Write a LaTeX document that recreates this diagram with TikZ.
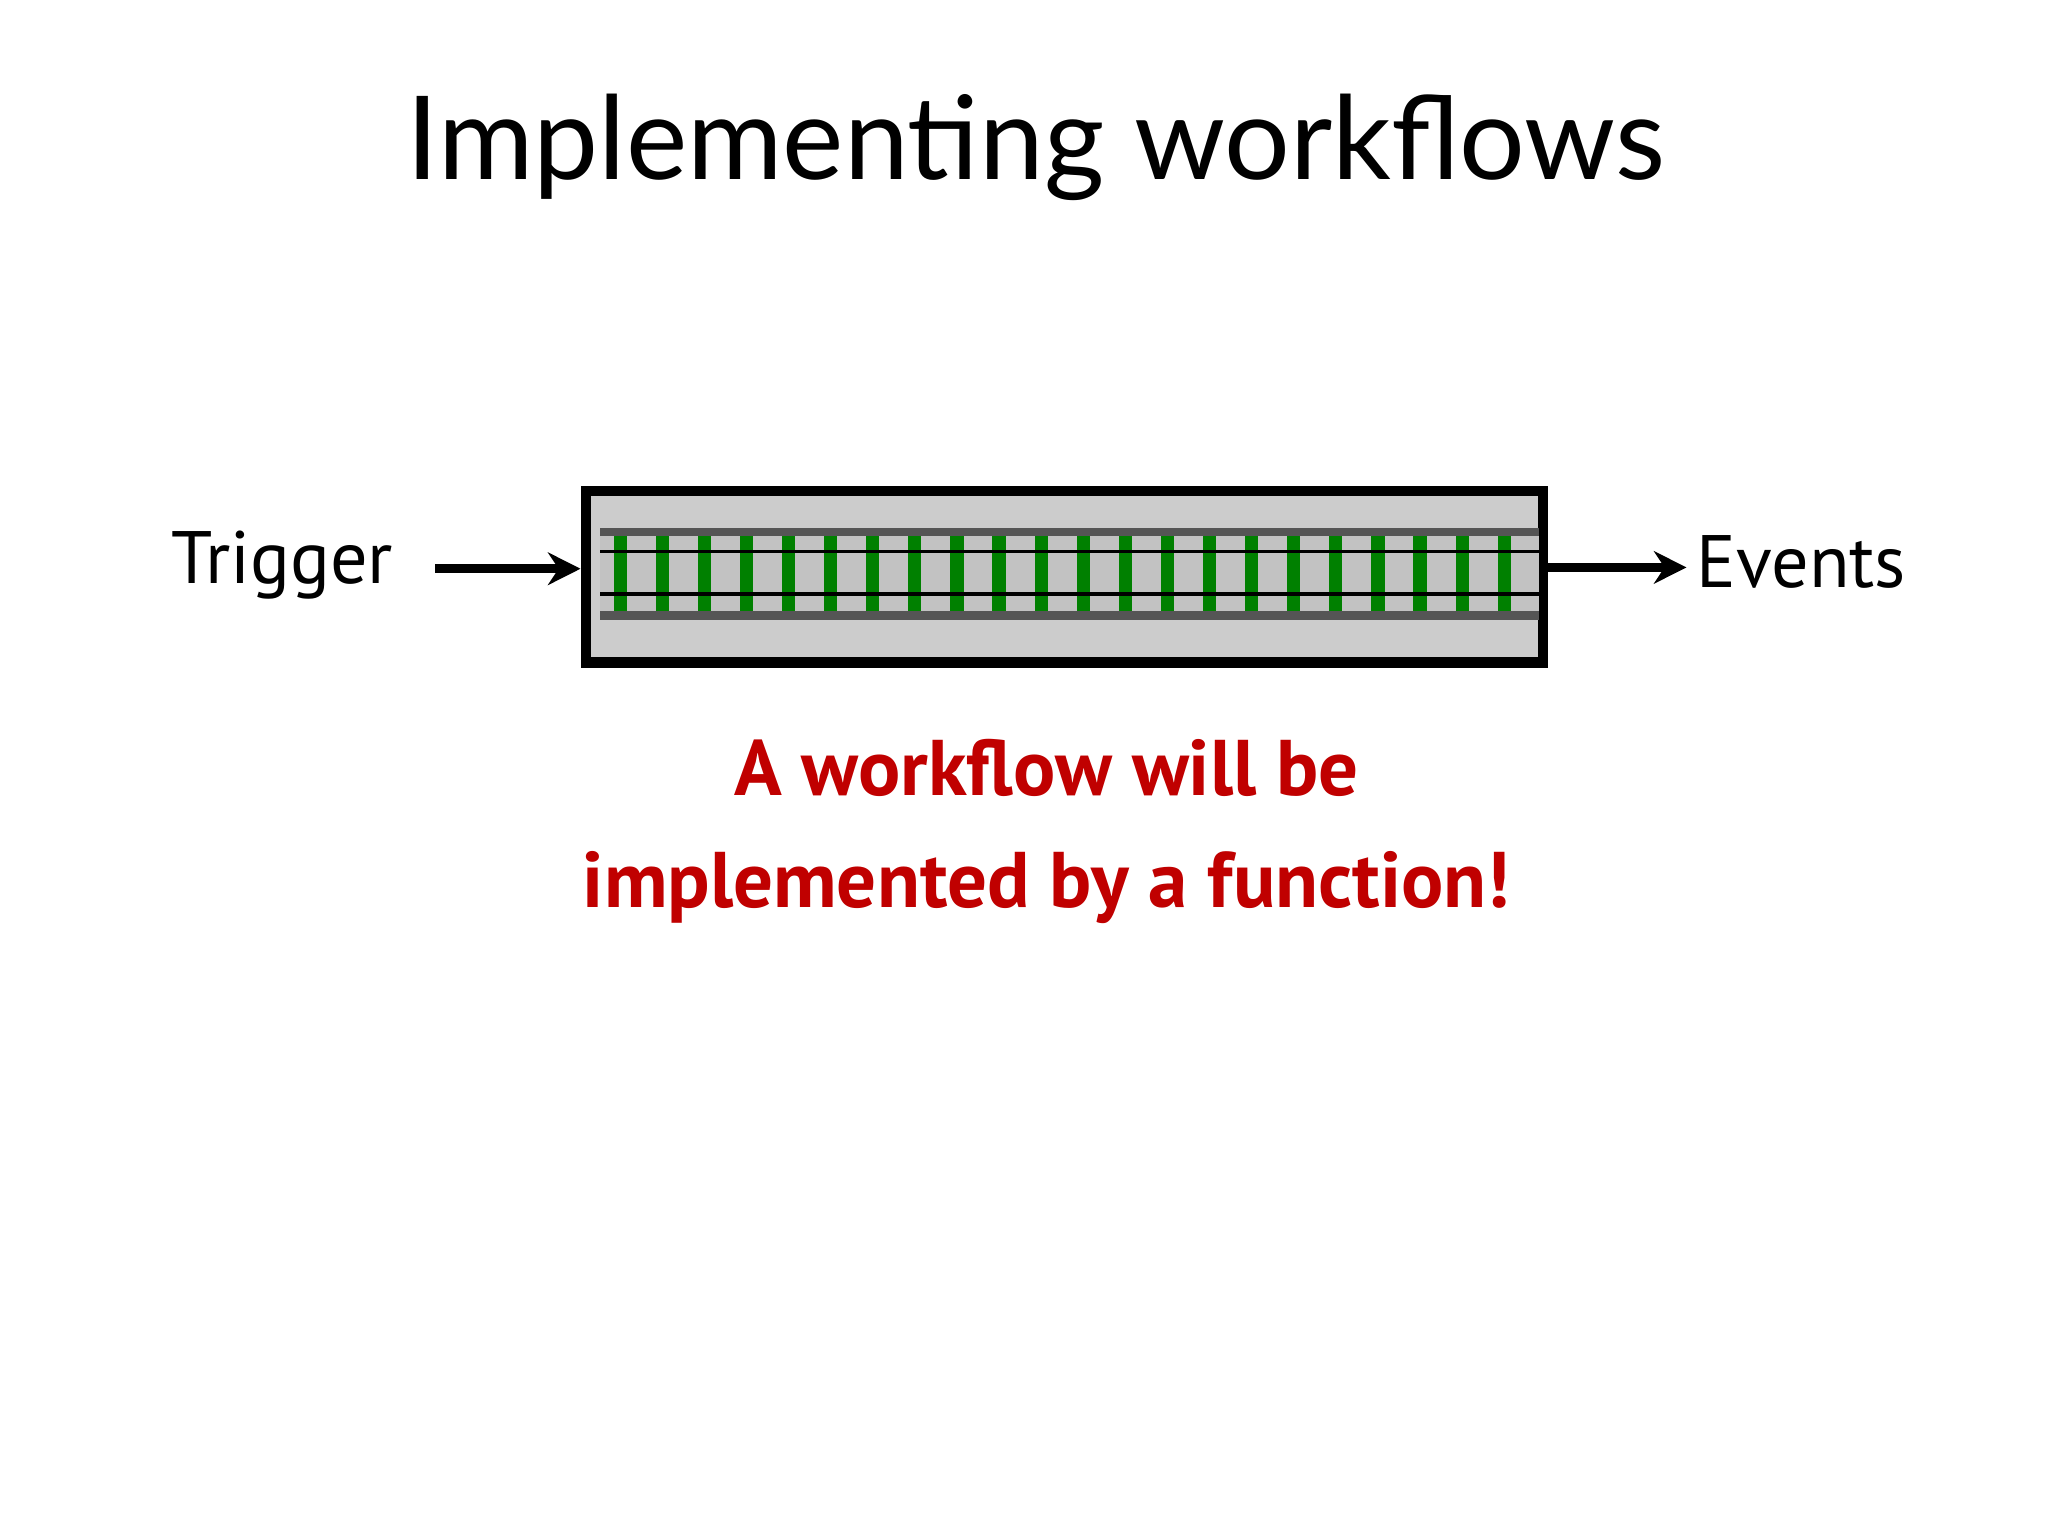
\documentclass[tikz,border=0pt]{standalone}
\usepackage{fontspec}
\usetikzlibrary{arrows.meta}
\setmainfont{Lato}
\newfontfamily\hand{PT Sans}
\definecolor{boxgray}{HTML}{CCCCCC}
\definecolor{strip}{HTML}{C2C2C2}
\definecolor{rail}{HTML}{555555}
\definecolor{tie}{HTML}{008000}
\definecolor{redtxt}{HTML}{C00000}
\begin{document}
\begin{tikzpicture}[x=0.01cm,y=-0.01cm,
  lbl/.style={font=\hand\fontsize{16}{19}\selectfont},
  arr/.style={line width=2pt,-{Stealth[length=7pt,width=7pt]}}]
\useasboundingbox (0,0) rectangle (1552,1164);
\fill[white] (0,0) rectangle (1552,1164);
\node (title) at (785,112) {\fontsize{25}{30}\selectfont Implementing workflows};
\node[draw,line width=2.2pt,fill=boxgray,minimum width=7.25cm,minimum height=1.30cm,inner sep=0] (fn) at (806.5,437) {};
\fill[strip] (455,406) rectangle (1166,463);
\foreach \i in {0,...,21} {\fill[tie] ({465+\i*31.9},406) rectangle ({475+\i*31.9},463);}
\fill[rail] (455,400) rectangle (1166,406);
\fill[rail] (455,463) rectangle (1166,470);
\draw[line width=0.8pt] (455,418) -- (1166,418);
\draw[line width=0.8pt] (455,450) -- (1166,450);
\node[lbl] (trig) at (214,428) {Trigger};
\node[lbl] (ev) at (1365,426) {Events};
\coordinate (a1) at (330,431);
\coordinate (a2) at (1278,430);
\draw[arr] (a1) -- (fn.west|-a1);
\draw[arr] (fn.east|-a2) -- (a2);
\node[font=\hand\bfseries\fontsize{17}{24}\selectfont,text=redtxt,align=center] (msg) at (793,630) {A workflow will be\\implemented by a function!};
\end{tikzpicture}
\end{document}
